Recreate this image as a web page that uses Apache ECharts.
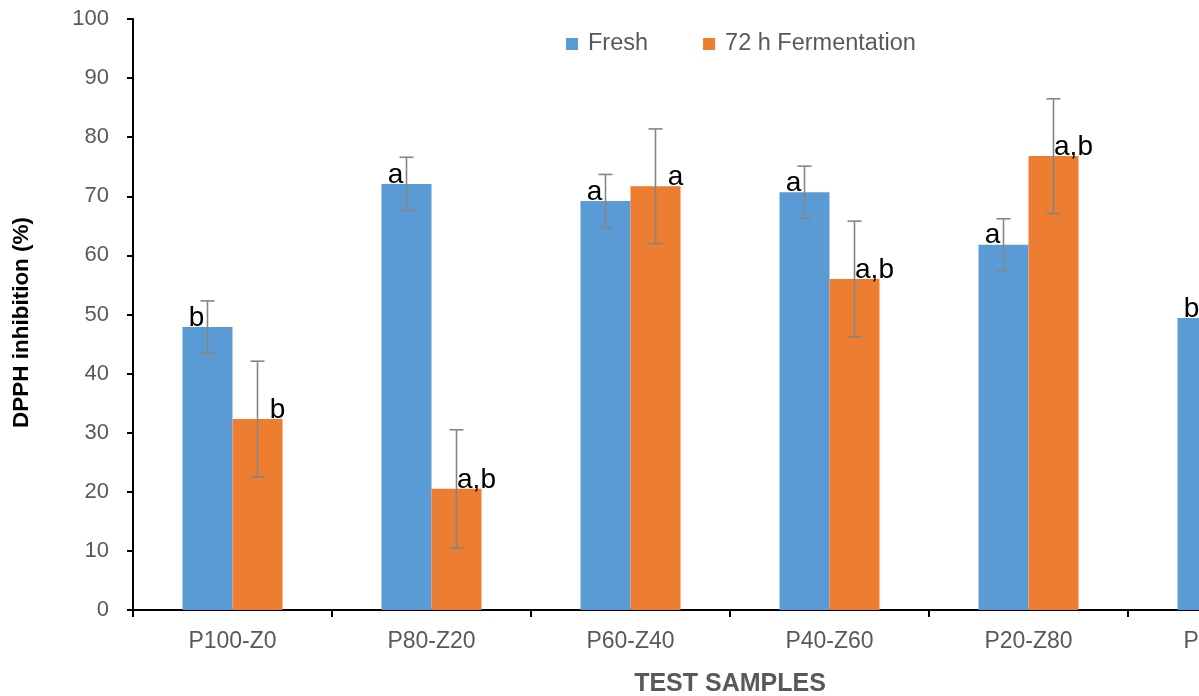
<!DOCTYPE html>
<html>
<head>
<meta charset="utf-8">
<script src="https://cdn.jsdelivr.net/npm/echarts@6/dist/echarts.min.js"></script>
<style>
html,body{margin:0;padding:0;background:#fff;}
#chart{width:1199px;height:696px;}
</style>
</head>
<body>
<div id="chart"></div>
<script>
const categories = ['P100-Z0', 'P80-Z20', 'P60-Z40', 'P40-Z60', 'P20-Z80', 'P0-Z100'];
const freshValues = [47.9, 72.1, 69.2, 70.7, 61.8, 49.4];
const freshErrors = [4.4, 4.5, 4.5, 4.4, 4.4, null];
const freshLetters = ['b', 'a', 'a', 'a', 'a', 'b'];
const fermValues = [32.3, 20.5, 71.7, 56.0, 76.8, null];
const fermErrors = [9.8, 10.0, 9.7, 9.8, 9.7, null];
const fermLetters = ['b', 'a,b', 'a', 'a,b', 'a,b', ''];
const yTicks = [0, 10, 20, 30, 40, 50, 60, 70, 80, 90, 100];

const BAR_W = 50;
const FONT = '"Liberation Sans", Arial, sans-serif';

function errorSeries(name, values, errors, side) {
  const data = values.map((v, i) => (v == null || errors[i] == null) ? null : [i, v, errors[i]]).filter(d => d);
  return {
    type: 'custom',
    name: name + ' err',
    z: 10,
    silent: true,
    renderItem: function (params, api) {
      const i = api.value(0), v = api.value(1), e = api.value(2);
      const band = api.size([1, 0])[0];
      const dx = side * band * (BAR_W / 2) / 199;
      const hi = api.coord([i, v + e]);
      const lo = api.coord([i, v - e]);
      const x = hi[0] + dx;
      const cap = 7;
      const style = { stroke: '#858585', lineWidth: 1.6, fill: null };
      return {
        type: 'group',
        children: [
          { type: 'line', shape: { x1: x, y1: hi[1], x2: x, y2: lo[1] }, style: style },
          { type: 'line', shape: { x1: x - cap, y1: hi[1], x2: x + cap, y2: hi[1] }, style: style },
          { type: 'line', shape: { x1: x - cap, y1: lo[1], x2: x + cap, y2: lo[1] }, style: style }
        ]
      };
    },
    data: data
  };
}

const chart = echarts.init(document.getElementById('chart'), null, { renderer: 'canvas' });
chart.setOption({
  animation: false,
  backgroundColor: '#ffffff',
  legend: {
    left: 561,
    top: 27,
    itemWidth: 12,
    itemHeight: 12,
    itemGap: 55,
    icon: 'rect',
    textStyle: { fontFamily: FONT, fontSize: 23.5, color: '#595959', padding: [0, 0, 0, 5] },
    data: ['Fresh', '72 h Fermentation']
  },
  grid: { left: 133, top: 19, height: 591, width: 1194, containLabel: false, outerBoundsMode: 'none' },
  xAxis: {
    type: 'category',
    data: categories,
    name: 'TEST SAMPLES',
    nameLocation: 'middle',
    nameGap: 62,
    nameTextStyle: { fontFamily: FONT, fontSize: 25, fontWeight: 'bold', color: '#595959' },
    axisLine: { lineStyle: { color: '#000', width: 2 } },
    axisTick: { show: true, length: 7, lineStyle: { color: '#000', width: 2 } },
    axisLabel: { fontFamily: FONT, fontSize: 23, color: '#595959', margin: 20 },
    splitLine: { show: false }
  },
  yAxis: {
    type: 'value',
    min: yTicks[0],
    max: yTicks[yTicks.length - 1],
    interval: 10,
    name: 'DPPH inhibition (%)',
    nameLocation: 'middle',
    nameGap: 100,
    nameTextStyle: { fontFamily: FONT, fontSize: 22.5, fontWeight: 'bold', color: '#000', padding: [0, 16, 0, 0] },
    axisLine: { show: true, lineStyle: { color: '#000', width: 2 } },
    axisTick: { show: true, length: 6, lineStyle: { color: '#000', width: 2 } },
    axisLabel: { fontFamily: FONT, fontSize: 22, color: '#595959', margin: 24 },
    splitLine: { show: false }
  },
  series: [
    {
      name: 'Fresh',
      type: 'bar',
      barWidth: BAR_W,
      barGap: '0%',
      itemStyle: { color: '#5b9bd5' },
      label: {
        show: true,
        position: 'top',
        distance: 0,
        offset: [-11, 5],
        fontFamily: FONT,
        fontSize: 28,
        lineHeight: 28,
        color: '#000',
        formatter: p => freshLetters[p.dataIndex]
      },
      z: 2,
      data: freshValues
    },
    {
      name: '72 h Fermentation',
      type: 'bar',
      barWidth: BAR_W,
      barGap: '0%',
      itemStyle: { color: '#ed7d31' },
      label: {
        show: true,
        position: 'top',
        distance: 0,
        offset: [20, 5],
        fontFamily: FONT,
        fontSize: 28,
        lineHeight: 28,
        color: '#000',
        formatter: p => fermLetters[p.dataIndex]
      },
      z: 2,
      data: fermValues
    },
    errorSeries('Fresh', freshValues, freshErrors, -1),
    errorSeries('72 h Fermentation', fermValues, fermErrors, 1)
  ]
});
</script>
</body>
</html>
